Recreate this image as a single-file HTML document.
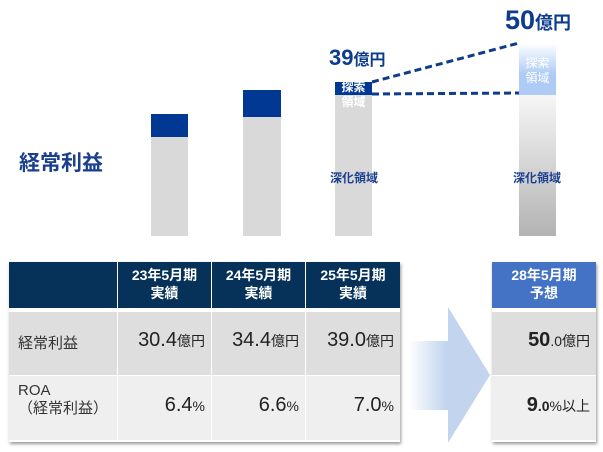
<!DOCTYPE html>
<html><head><meta charset="utf-8"><style>
body{margin:0;width:603px;height:452px;background:#fff;position:relative;overflow:hidden;font-family:"Liberation Sans","Noto Sans CJK JP",sans-serif}
div{position:absolute;box-sizing:border-box}
.t{white-space:nowrap}
.hd{background:#06325a;color:#fff;font-weight:bold;font-size:14px;text-align:center;line-height:18px;padding-top:4px}
.c{font-size:20px;color:#222;text-align:right;padding-right:6px}
.c small{font-size:14px}
</style></head><body>
<div class="t" style="left:19px;top:147px;font-size:21px;font-weight:bold;color:#1a3f8f">経常利益</div>
<div style="left:151px;top:114px;width:37px;height:23px;background:#013894"></div>
<div style="left:151px;top:137px;width:37px;height:99px;background:#d9d9d9"></div>
<div style="left:243px;top:90px;width:38px;height:27px;background:#013894"></div>
<div style="left:243px;top:117px;width:38px;height:119px;background:#d9d9d9"></div>
<div style="left:335px;top:82px;width:37px;height:13px;background:#013894"></div>
<div style="left:335px;top:95px;width:37px;height:141px;background:#d9d9d9"></div>
<div class="t" style="left:336px;top:80px;width:35px;text-align:center;font-size:12px;font-weight:bold;color:#fff;line-height:15px">探索<br>領域</div>
<div class="t" style="left:329px;top:45px;font-size:22px;font-weight:bold;color:#0d3c8c">39<span style="font-size:16px">億円</span></div>
<div style="left:519px;top:43px;width:37px;height:52px;background:linear-gradient(#fff,#aecbf5 60%)"></div>
<div style="left:519px;top:95px;width:37px;height:141px;background:linear-gradient(#f6f6f6,#b3b3b3)"></div>
<div class="t" style="left:519px;top:56px;width:37px;text-align:center;font-size:12px;color:#fff;line-height:15px">探索<br>領域</div>
<div class="t" style="left:505px;top:5px;font-size:27px;font-weight:bold;color:#0d3c8c">50<span style="font-size:18px">億円</span></div>
<div class="t" style="left:324px;top:169px;width:60px;text-align:center;font-size:12px;font-weight:bold;color:#1a3f8f">深化領域</div>
<div class="t" style="left:507px;top:169px;width:60px;text-align:center;font-size:12px;font-weight:bold;color:#1a3f8f">深化領域</div>
<svg style="position:absolute;left:0;top:0" width="603" height="452">
<line x1="372" y1="82" x2="519" y2="43" stroke="#0d3c8c" stroke-width="3" stroke-dasharray="7,4"/>
<line x1="372" y1="94" x2="519" y2="93" stroke="#0d3c8c" stroke-width="3" stroke-dasharray="7,4"/>
<defs><linearGradient id="g" x1="0" x2="1"><stop offset="0" stop-color="#c3d5ee" stop-opacity="0"/><stop offset="0.45" stop-color="#c3d5ee"/></linearGradient></defs>
<polygon points="409,341 448,341 448,307 490,375 448,443 448,410 409,410" fill="url(#g)"/>
</svg>
<div style="left:9px;top:262px;width:391px;height:180px;box-shadow:1px 2px 3px #999"></div>
<div class="hd" style="left:9px;top:262px;width:108px;height:46px"></div>
<div class="hd" style="left:118px;top:262px;width:93px;height:46px">23年5月期<br>実績</div>
<div class="hd" style="left:212px;top:262px;width:93px;height:46px">24年5月期<br>実績</div>
<div class="hd" style="left:306px;top:262px;width:94px;height:46px">25年5月期<br>実績</div>
<div style="left:9px;top:309px;width:391px;height:3px;background:#fff"></div>
<div style="left:9px;top:312px;width:108px;height:63px;background:#dedede;font-size:15px;color:#333;padding:20px 0 0 9px">経常利益</div>
<div class="c" style="left:118px;top:312px;width:93px;height:63px;background:#dedede;padding-top:17px">30.4<small>億円</small></div>
<div class="c" style="left:212px;top:312px;width:93px;height:63px;background:#dedede;padding-top:17px">34.4<small>億円</small></div>
<div class="c" style="left:306px;top:312px;width:94px;height:63px;background:#dedede;padding-top:17px">39.0<small>億円</small></div>
<div style="left:9px;top:376px;width:108px;height:64px;background:#efefef;font-size:15px;color:#333;padding:6px 0 0 9px;line-height:18px">ROA<br>（経常利益）</div>
<div class="c" style="left:118px;top:376px;width:93px;height:64px;background:#efefef;padding-top:18px">6.4<small>%</small></div>
<div class="c" style="left:212px;top:376px;width:93px;height:64px;background:#efefef;padding-top:18px">6.6<small>%</small></div>
<div class="c" style="left:306px;top:376px;width:94px;height:64px;background:#efefef;padding-top:18px">7.0<small>%</small></div>
<div style="left:492px;top:262px;width:104px;height:180px;box-shadow:1px 2px 3px #999"></div>
<div class="hd" style="left:492px;top:262px;width:104px;height:46px;background:#4472c4">28年5月期<br>予想</div>
<div style="left:492px;top:309px;width:104px;height:3px;background:#fff"></div>
<div class="c" style="left:492px;top:312px;width:104px;height:63px;background:#dedede;padding-top:17px;font-weight:bold">50<small style="font-weight:normal">.0億円</small></div>
<div class="c" style="left:492px;top:376px;width:104px;height:64px;background:#efefef;padding-top:18px;font-weight:bold">9<small>.0</small><small style="font-weight:normal">%以上</small></div>
</body></html>
